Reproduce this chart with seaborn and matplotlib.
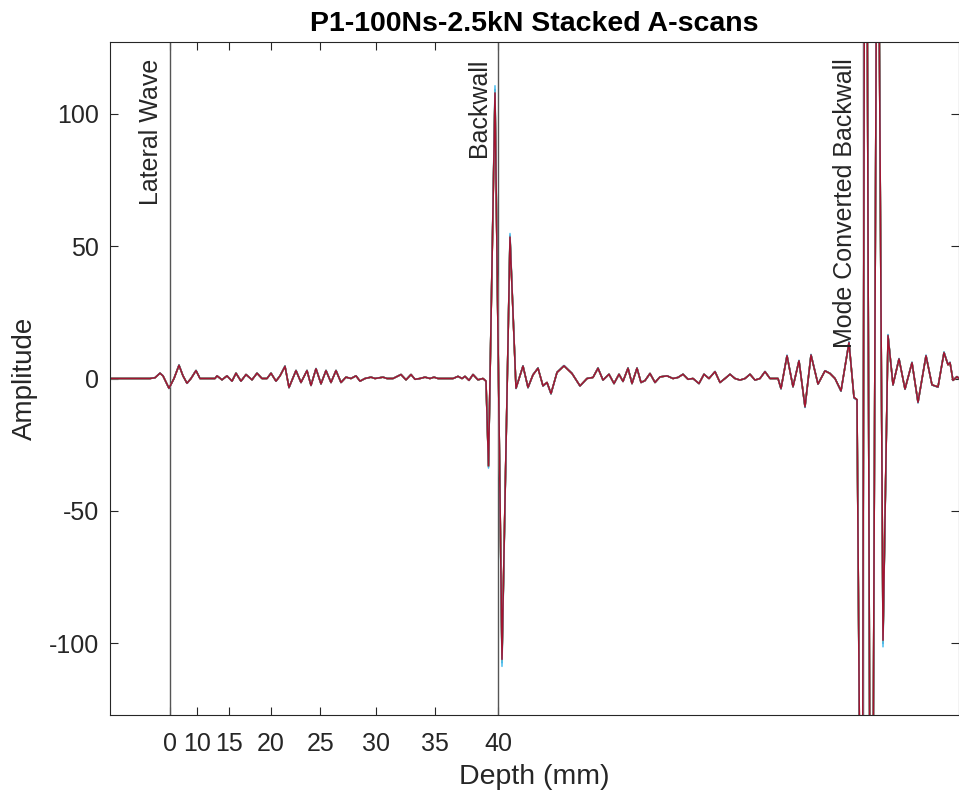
import numpy as np
import pandas as pd
import matplotlib
matplotlib.use("Agg")
import matplotlib.pyplot as plt
import seaborn as sns

# ---- data (x in sample index, amplitude) ----
sample_idx = [0, 40, 45, 50, 53, 59, 64, 69, 73, 77, 81, 86, 90, 105, 107, 112, 117, 122,
              126, 131, 136, 142, 147, 152, 157, 161, 166, 170, 175, 179, 186, 191, 197,
              201, 206, 211, 216, 221, 226, 231, 236, 241, 246, 250, 255, 261, 265, 273,
              277, 283, 291, 296, 301, 305, 310, 315, 320, 324, 328, 343, 348, 352, 355,
              359, 363, 368, 373, 376, 378.5, 385, 392, 400, 406, 413, 418, 423, 428,
              433, 437, 441, 447, 454, 462, 470, 477, 483, 488, 493, 499, 504, 509, 513,
              518, 522, 527, 531, 535, 540, 545, 550, 557, 563, 568, 573, 578, 583, 589,
              594, 599, 605, 610, 615, 620, 625, 630, 635, 640, 645, 650, 655, 660, 668,
              671, 677, 683, 689, 695, 701, 708, 715, 720, 725, 731, 739, 744, 747,
              749.3, 751, 752.8, 754.2, 755.8, 757.4, 759.6, 761.5, 763.4, 766.2, 767.8,
              769.4, 773, 778, 783, 789, 795, 802, 808, 816, 822, 828, 834, 838, 840,
              843, 847, 849]
amplitude = [0, 0, 0.3, 2, 1, -3.7, 0, 5, 1, -1.8, 0, 3, 0, 0, 1, -0.5, 1, -1,
             2, -1, 1.5, -0.5, 2, 0, 0, 2, -1, 1, 4.6, -3.4, 3, -1.5, 3,
             -2.6, 3.7, -2, 3, -1.5, 3, -1.5, 0.5, 0, 1, -1, 0, 0.5, 0, 0.5,
             0, 0, 1.5, -0.5, 1.5, -0.3, 0, 0.5, 0, 0.5, 0, 0, 0.8, 0, 0.8,
             -0.7, 1.5, -0.5, 0, -1, -33, 107.8, -106, 53.4, -3.7, 4.7, -3.4, 1.4, 3.9,
             -2.8, -1.5, -5.7, 2.3, 4.8, 1.9, -2.8, 0, 0.4, 3.9, -0.6, 1.6, -1.9, 1.6, -1.1,
             3.9, -1.9, 3.9, -1.5, -0.8, 1.9, -1.5, 0.6, 1, 0, 0.4, 1.6, -0.3, 0, -1.9,
             1.6, 0, 2.6, -1.5, 0, 1.6, 0, -0.6, 0, 1.6, -0.6, 0, 2.6, 0, 0,
             -3.8, 8.6, -3.1, 6.7, -10.7, 8.9, -2.1, 2.9, 1.9, 0, -4.7, 13.6, -7.2, -8,
             -127, -320, -127, 127, 320, 127, -127, -320, -127, 127, 320,
             127, -98.8, 16.2, -2.4, 7.4, -4, 6, -9, 8.6, -2.4, -3.2, 9.8, 5.2, 6,
             -0.7, 0.7, 0]

scan_names = ["Scan 1", "Scan 2", "Scan 3", "Scan 4", "Scan 5", "Scan 6", "Scan 7"]
scan_gain = [1.012, 0.996, 1.006, 0.992, 1.003, 1.025, 1.0]
scan_colors = ["#0072BD", "#D95319", "#EDB120", "#7E2F8E", "#77AC30", "#4DBEEE", "#A2142F"]

tick_pos = [59.5, 87, 119.3, 160.7, 210.3, 266, 325, 388]
tick_labels = ["0", "10", "15", "20", "25", "30", "35", "40"]

marker_pos = [59.5, 388, 753.5]
marker_labels = ["Lateral Wave", "Backwall", "Mode Converted Backwall"]

# ---- build long-form table ----
rows = []
for name, g in zip(scan_names, scan_gain):
    for xv, yv in zip(sample_idx, amplitude):
        rows.append((name, xv, yv * g))
df = pd.DataFrame(rows, columns=["scan", "sample", "amp"])

sns.set_theme(style="white")
plt.rcParams["font.family"] = ["Liberation Sans", "DejaVu Sans"]
plt.rcParams["axes.unicode_minus"] = False

fig = plt.figure(figsize=(9.59, 8.02), dpi=100)
ax = fig.add_axes([110 / 959, (802 - 715) / 802, (959 - 110) / 959, (715 - 42) / 802])

sns.lineplot(data=df, x="sample", y="amp", hue="scan", palette=scan_colors,
             hue_order=scan_names, estimator=None, sort=False, legend=False,
             linewidth=1.1, ax=ax)
for ln in ax.get_lines():
    ln.set_solid_joinstyle("round")
    ln.set_solid_capstyle("round")

for xp, lab in zip(marker_pos, marker_labels):
    ax.axvline(xp, color="#555555", lw=1.0, zorder=1)
    ax.annotate(lab, xy=(xp, 1), xycoords=("data", "axes fraction"),
                xytext=(-5, -12), textcoords="offset points",
                rotation=90, ha="right", va="top", fontsize=18, color="#262626")

ax.set_xlim(0, 849)
ax.set_ylim(-127, 127)
ax.set_xticks(tick_pos)
ax.set_xticklabels(tick_labels)
ax.set_yticks([-100, -50, 0, 50, 100])
ax.set_yticklabels(["-100", "-50", "0", "50", "100"])
ax.tick_params(direction="in", length=6, width=0.8, colors="#262626",
               labelsize=18, top=True, right=True, left=True, bottom=True, pad=8)
ax.tick_params(axis="x", pad=12)
for sp in ax.spines.values():
    sp.set_color("#262626")
    sp.set_linewidth(0.8)
    sp.set_visible(True)

ax.set_xlabel("Depth (mm)", fontsize=20.5, color="#262626", labelpad=6)
ax.set_ylabel("Amplitude", fontsize=20, color="#262626", labelpad=8)
ax.set_title("P1-100Ns-2.5kN Stacked A-scans", fontsize=20.5, fontweight="bold",
             color="black", pad=8)

fig.savefig("out.png", dpi=100)
